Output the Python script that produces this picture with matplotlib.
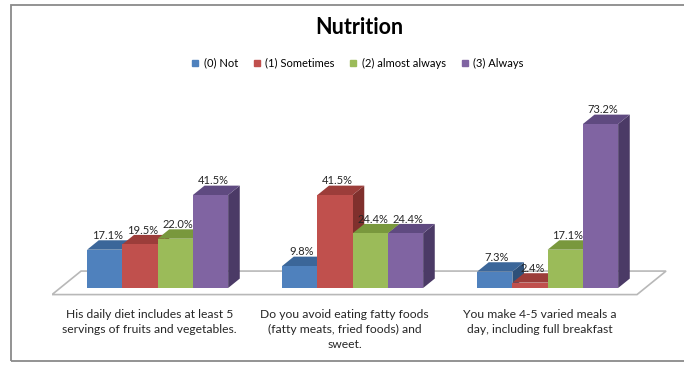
"""
Nutrition survey chart, Excel-style 3D clustered columns drawn with 2D patches.
"""

import matplotlib
matplotlib.use("Agg")
import matplotlib.pyplot as plt
from matplotlib.patches import Polygon, Rectangle
from matplotlib.lines import Line2D

plt.rcParams["font.family"] = ["Lato", "DejaVu Sans"]

# --- data -------------------------------------------------------------
categories = [
    "His daily diet includes at least 5\nservings of fruits and vegetables.",
    "Do you avoid eating fatty foods\n(fatty meats, fried foods) and\nsweet.",
    "You make 4-5 varied meals a\nday, including full breakfast",
]
series_names = ["(0) Not", "(1) Sometimes", "(2) almost always", "(3) Always"]
not_pct = [17.1, 9.8, 7.3]
sometimes_pct = [19.5, 41.5, 2.4]
almost_always_pct = [22.0, 24.4, 17.1]
always_pct = [41.5, 24.4, 73.2]
series_values = [not_pct, sometimes_pct, almost_always_pct, always_pct]

# --- style ------------------------------------------------------------
FRONT = ["#4F81BD", "#C0504D", "#9BBB59", "#8064A2"]
TOP = ["#3B6699", "#9C3D3A", "#79983D", "#5F4A80"]
SIDE = ["#2E5079", "#80302D", "#637F30", "#4B3A66"]

# floor depth vector (category units, percent units)
DX, DY = 0.149, 10.5
F0 = 0.28      # bar front plane as fraction of floor depth
FD = 0.40      # bar depth as fraction of floor depth
BW = 0.1808    # bar width in category units

fig = plt.figure(figsize=(6.84, 3.65), dpi=100)
ax = fig.add_axes([0.07602, 0.14959, 0.91228, 0.55233])
ax.set_xlim(-0.5, 2.7)
ax.set_ylim(-10, 80)
ax.axis("off")

# outer chart frame (right edge runs off the canvas)
fig.add_artist(Rectangle((11 / 684, 4 / 365), 1.0, 356 / 365,
                         transform=fig.transFigure, fill=False,
                         edgecolor="#8a8a8a", linewidth=1.3))

# floor
n = len(categories)
fy = -F0 * DY
floor = Polygon([(-0.5, fy), (n - 0.5, fy), (n - 0.5 + DX, fy + DY), (-0.5 + DX, fy + DY)],
                closed=True, facecolor="white", edgecolor="#b8b8b8", linewidth=1.2, zorder=1)
ax.add_patch(floor)

bdx, bdy = FD * DX, FD * DY
z = 2
for i in range(n):
    for j, vals in enumerate(series_values):
        v = vals[i]
        x0 = i + F0 * DX + (j - 2) * BW
        x1 = x0 + BW
        ax.bar(x0, v, BW, bottom=0, align="edge", color=FRONT[j],
               linewidth=0, zorder=z + 0.2)
        ax.add_patch(Polygon([(x0, v), (x1, v), (x1 + bdx, v + bdy), (x0 + bdx, v + bdy)],
                             closed=True, facecolor=TOP[j], linewidth=0, zorder=z + 0.1))
        ax.add_patch(Polygon([(x1, 0), (x1 + bdx, bdy), (x1 + bdx, v + bdy), (x1, v)],
                             closed=True, facecolor=SIDE[j], linewidth=0, zorder=z))
        z += 1

for i in range(n):
    for j, vals in enumerate(series_values):
        v = vals[i]
        xc = i + F0 * DX + (j - 1.5) * BW + 0.2 * bdx
        ax.text(xc, v + bdy - 0.3, f"{v:.1f}%", ha="center", va="bottom",
                fontsize=8, color="#262626", zorder=100)

for i, label in enumerate(categories):
    ax.text(i, fy - 6.6, label, ha="center", va="top", fontsize=8.7,
            color="#262626", linespacing=1.4)

fig.text(359.5 / 684, 1 - 27 / 365, "Nutrition", ha="center", va="center",
         fontsize=15.5, fontweight="bold", color="black")

handles = [Line2D([], [], marker="s", linestyle="none", markersize=4.5,
                  markerfacecolor=c, markeredgecolor=c) for c in FRONT]
fig.legend(handles, series_names, loc="center", bbox_to_anchor=(357 / 684, 1 - 63 / 365),
           ncol=4, frameon=False, fontsize=8, handlelength=0.8, handletextpad=0.35,
           columnspacing=1.3, borderpad=0)

fig.savefig("out.png", dpi=100)
